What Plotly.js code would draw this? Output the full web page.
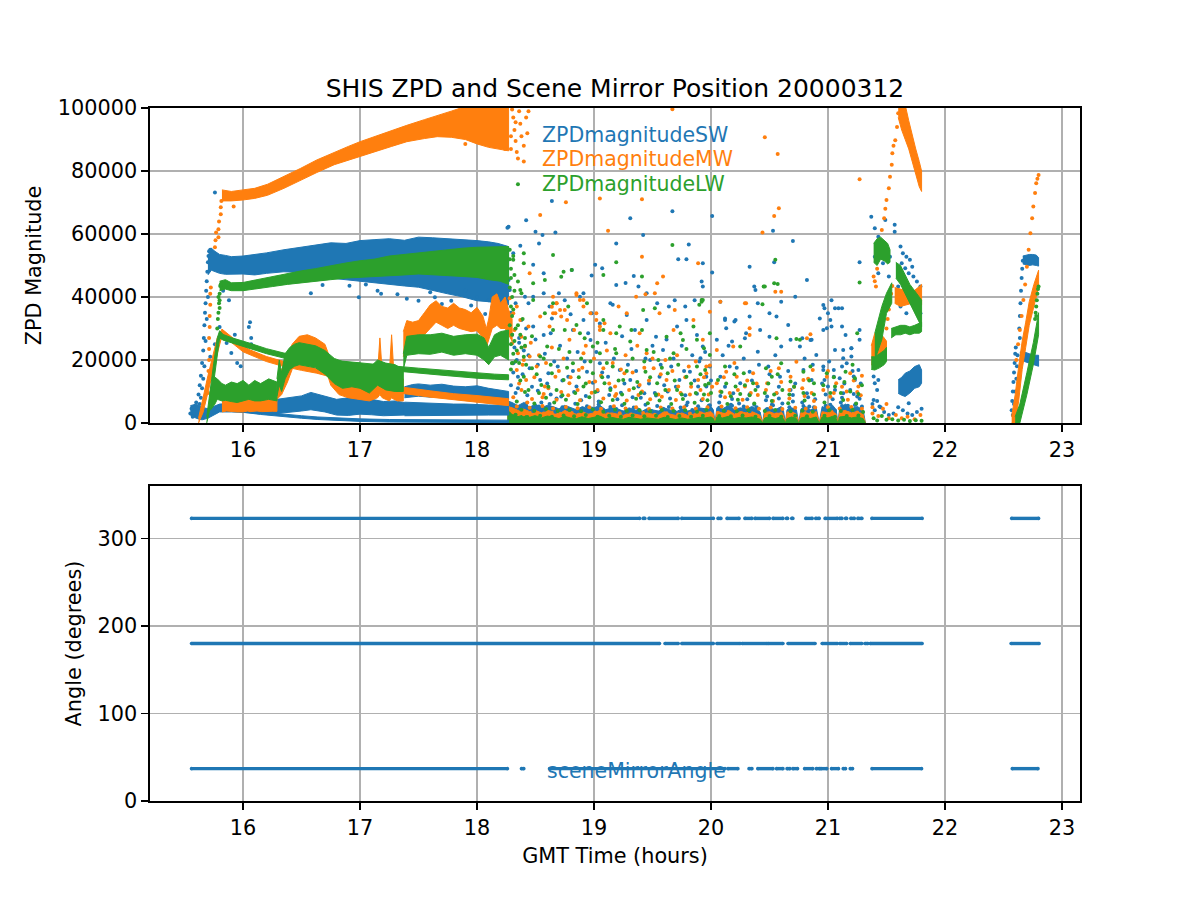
<!DOCTYPE html>
<html><head><meta charset="utf-8">
<script src="https://cdn.plot.ly/plotly-3.0.1.min.js"></script>
<style>body{margin:0;background:#fff}#chart{width:1200px;height:900px}</style>
</head><body><div id="chart"></div>
<script>
const C_SW = '#1f77b4', C_MW = '#ff7f0e', C_LW = '#2ca02c';

// ---------- ZPDmagnitudeSW dense bands (upper / lower envelopes) ----------
const swMainX  = [15.70,15.73,15.76,15.80,15.85,15.90,16.00,16.10,16.20,16.35,16.50,16.62,16.75,16.88,17.00,17.12,17.25,17.38,17.50,17.62,17.75,17.88,18.00,18.10,18.18,18.27];
const swMainUp = [53000,55500,54500,53500,53200,52800,53000,53500,54000,55000,55800,56500,57200,57000,57900,58200,58500,58000,59000,58800,58500,58300,57900,57500,57000,56000];
const swMainLo = [47000,48500,48000,47500,47200,47300,47300,47000,47500,48000,47800,46500,46000,45500,45200,44500,44000,43500,43100,42000,41000,40000,38800,38500,38000,37500];
const swLineX  = [15.83,15.90,16.00,16.15,16.30,16.50,16.64,16.80,17.00,17.25,17.50,17.80,18.27];
const swLineUp = [5500,4900,4200,3500,2900,2300,1900,1600,1300,1100,1000,950,900];
const swLineLo = [4500,4100,3400,2700,2100,1500,1100,800,500,300,200,150,100];
const swNoisyX  = [15.55,15.60,15.65,15.70,15.80,15.90,16.00,16.10,16.20,16.29,16.40,16.50,16.58,16.70,16.80,16.90,17.00,17.10,17.20,17.30,17.38];
const swNoisyUp = [5500,6000,5000,4500,6000,6200,6300,6000,6500,7500,8000,8600,9700,8500,7500,8000,8500,7500,6800,7000,6500];
const swNoisyLo = [2500,1500,1000,1500,3500,3500,3500,3200,3000,3000,3500,3800,4200,3500,2500,2400,2800,2600,2300,2500,2500];
const swTailAX  = [17.38,17.45,17.50,17.60,17.70,17.80,17.90,18.00,18.10,18.20,18.27];
const swTailAUp = [11500,12200,12400,12000,12300,11700,11500,11800,11000,10500,10000];
const swTailALo = [8000,8300,8500,8200,8400,8000,8000,8200,7800,7500,7400];
const swTailBX  = [17.38,17.50,17.60,17.70,17.80,17.90,18.00,18.10,18.27];
const swTailBUp = [6600,6400,6300,6100,6000,6000,5800,5700,5600];
const swTailBLo = [2300,2300,2300,2400,2400,2400,2500,2500,2500];
const swBlobX  = [21.60,21.63,21.66,21.70,21.74,21.78,21.80];
const swBlobUp = [13700,14500,15800,16500,17900,18500,16800];
const swBlobLo = [9400,8800,8400,9500,11000,11500,12600];
const swEndTopX  = [22.665,22.69,22.72,22.75,22.78,22.80];
const swEndTopUp = [53000,53300,53500,53500,53300,52500];
const swEndTopLo = [50500,50200,50000,50200,50000,49800];
const swEndMidX  = [22.64,22.68,22.72,22.76,22.80];
const swEndMidUp = [22500,22500,22000,21500,21500];
const swEndMidLo = [19500,19500,19000,18500,18000];

// ---------- ZPDmagnitudeMW dense bands ----------
const mwMainX  = [15.82,15.90,16.00,16.10,16.21,16.35,16.49,16.63,16.78,16.90,17.00,17.14,17.27,17.40,17.55,17.66,17.78,17.90,18.00,18.10,18.20,18.27];
const mwMainUp = [74000,73500,74000,74500,75800,78200,80800,83500,86000,87800,89300,91200,92800,94500,96300,97500,99000,100500,101000,101000,101000,101000];
const mwMainLo = [70500,70500,70800,71300,72300,74500,76900,79500,82000,83500,84600,86300,87800,89300,90300,90900,90700,90000,88600,87500,86800,86400];
const mwLineX  = [15.62,15.66,15.70,15.74,15.78,15.82,15.90,16.00,16.06,16.20,16.35,16.50,16.63,16.80,17.00,17.20,17.38,17.60,17.80,18.00,18.15,18.27];
const mwLineUp = [1500,8500,15000,21000,27000,29800,27400,24400,23200,21100,19500,18300,17400,15900,14300,12700,11300,10200,9300,8700,8200,7700];
const mwLineLo = [0,3500,10000,16000,22000,27600,25600,22600,21600,19500,17900,16700,15800,14100,12500,10900,9300,8200,7300,6500,6000,5500];
const mwEarlyX  = [15.82,15.86,15.90,15.95,16.00,16.04,16.06,16.08,16.12,16.16,16.20,16.25,16.29];
const mwEarlyUp = [9000,8000,7500,8000,7500,8200,11500,8000,8500,7800,8000,8500,7500];
const mwEarlyLo = [3500,3800,3600,3500,3500,3800,3600,3700,3800,3600,3600,3700,3700];
const mwNoisyX  = [16.29,16.33,16.38,16.42,16.48,16.55,16.62,16.70,16.75,16.82,16.90,17.00,17.08,17.15,17.17,17.19,17.22,17.25,17.27,17.29,17.32,17.37];
const mwNoisyUp = [12000,17000,21000,25000,27500,28000,27000,25000,20000,18000,17500,17000,15500,16000,27000,16000,15000,15500,28000,15500,15000,14000];
const mwNoisyLo = [7500,9000,13000,17000,21000,22000,20500,18000,12000,9000,8000,7500,7000,8000,9000,8000,7500,7000,8000,7500,7000,7000];
const mwStepX  = [17.37,17.40,17.45,17.50,17.55,17.60,17.65,17.70,17.75,17.80,17.85,17.90,17.95,18.00,18.05,18.08,18.10,18.13,18.17,18.20,18.24,18.27,18.30];
const mwStepUp = [29000,32500,32000,32500,35000,37500,38800,37000,36500,38000,36500,36000,35000,36700,34000,30000,33000,40000,41000,38000,40000,36000,33000];
const mwStepLo = [21000,26000,26000,26500,28000,30000,32000,31000,30000,31000,30000,29500,29000,29300,27000,24000,26000,30000,31000,30000,30000,28000,26000];
const mwPeakX  = [21.60,21.63,21.66,21.69,21.72,21.75,21.78,21.80];
const mwPeakUp = [101000,101000,101000,96000,91000,87000,83000,80000];
const mwPeakLo = [97000,93000,90000,87000,83000,79000,75000,73500];
const mwBurstLowX  = [21.37,21.40,21.43,21.47,21.50];
const mwBurstLowUp = [24500,28500,28500,27500,26000];
const mwBurstLowLo = [18500,17900,19500,20500,21500];
const mwBurstMidX  = [21.57,21.62,21.67,21.72,21.77,21.80];
const mwBurstMidUp = [43000,42500,42000,41500,43000,44000];
const mwBurstMidLo = [38000,37000,37500,38000,37000,37500];
const mwEndX  = [22.57,22.60,22.63,22.66,22.69,22.72,22.76,22.80];
const mwEndUp = [2000,9000,18000,26000,32000,38500,44000,48500];
const mwEndLo = [0,0,7000,17000,24000,31000,37000,43000];

// ---------- ZPDmagnitudeLW dense bands ----------
const lwMainX  = [15.80,15.85,15.90,16.00,16.12,16.25,16.38,16.50,16.62,16.75,16.88,17.00,17.12,17.25,17.38,17.50,17.62,17.75,17.88,18.00,18.10,18.20,18.27];
const lwMainUp = [45000,45500,44500,44600,45500,46500,47500,48300,49000,50000,50800,51500,52000,53000,53500,54200,54500,55000,55500,55800,55800,56000,56000];
const lwMainLo = [42000,42500,42000,42000,42500,43300,44000,44600,45000,45500,46000,46200,46500,46800,47000,47300,47000,46800,46500,46200,45500,45000,44000];
const lwLineX  = [15.69,15.72,15.75,15.78,15.80,15.83,15.90,16.06,16.20,16.35,16.60,16.80,17.00,17.25,17.50,17.75,18.00,18.15,18.27];
const lwLineUp = [2000,11000,19000,27000,29300,28100,27100,25300,23600,22200,20700,19800,19000,18200,17400,16600,15800,15500,15300];
const lwLineLo = [0,5000,13000,21000,27000,26300,25500,23700,22000,20600,19100,18200,17400,16600,15800,15000,14200,13900,13700];
const lwEarlyX  = [15.72,15.76,15.78,15.82,15.85,15.90,15.95,16.00,16.05,16.10,16.15,16.22,16.29];
const lwEarlyUp = [10000,14500,14000,12500,12000,13000,12500,13500,12000,13500,12500,14000,13000];
const lwEarlyLo = [4000,6000,7500,7000,7200,6800,6500,7000,7500,7000,7000,7500,7000];
const lwNoisyX  = [16.29,16.31,16.33,16.36,16.40,16.44,16.48,16.55,16.62,16.70,16.78,16.85,16.93,17.00,17.08,17.15,17.22,17.30,17.37];
const lwNoisyUp = [14000,20000,16000,22000,24000,25000,25500,25000,24500,23000,20500,19500,19000,19000,17500,20000,19000,18500,17000];
const lwNoisyLo = [8500,12000,10000,14000,17000,18000,18500,18000,17500,15500,12500,11000,11500,11000,9500,12000,10500,10000,10000];
const lwStepX  = [17.37,17.40,17.50,17.60,17.70,17.80,17.90,18.00,18.06,18.10,18.15,18.20,18.27];
const lwStepUp = [22000,27500,28000,28000,28500,27500,28000,28200,27000,24000,28000,29000,29500];
const lwStepLo = [17000,21500,22000,21800,22500,21500,22000,21500,20000,18500,21000,21500,20000];
const lwBurstTopX  = [21.39,21.42,21.45,21.48,21.51,21.53];
const lwBurstTopUp = [57000,58500,59000,58000,57000,55000];
const lwBurstTopLo = [51000,50000,52000,51500,50500,51000];
const lwBurstLowX  = [21.37,21.40,21.44,21.48,21.50];
const lwBurstLowUp = [21000,21000,22000,23000,24000];
const lwBurstLowLo = [17000,16800,17500,18500,19500];
const lwBurstRiseX  = [21.40,21.43,21.46,21.50,21.545];
const lwBurstRiseUp = [28500,33000,37000,41200,44500];
const lwBurstRiseLo = [20000,23500,26400,34800,38000];
const lwBurstFallX  = [21.58,21.62,21.66,21.70,21.74,21.78,21.80];
const lwBurstFallUp = [51000,50000,47000,44000,42000,40000,39000];
const lwBurstFallLo = [46000,44000,41000,37500,35000,32000,30500];
const lwBurstFlatX  = [21.54,21.58,21.62,21.66,21.70,21.74,21.78,21.80];
const lwBurstFlatUp = [30000,30500,31000,31000,30500,31000,31500,32000];
const lwBurstFlatLo = [27000,28000,28000,28500,28000,28500,28500,29000];
const lwEndX  = [22.60,22.64,22.70,22.755,22.80];
const lwEndUp = [2000,6000,16000,25500,35000];
const lwEndLo = [0,0,9000,18500,28000];

// ---------- dense low cloud 18.3-21.3 (top of the dense layer) ----------
const lowX = [18.26,18.30,18.35,18.40,18.45,18.50,18.55,18.60,18.65,18.70,
  18.75,18.80,18.85,18.90,18.95,19.00,19.05,19.10,19.15,19.20,
  19.25,19.30,19.35,19.40,19.45,19.50,19.55,19.60,19.65,19.70,
  19.75,19.80,19.85,19.90,19.95,20.00,20.02,20.035,20.05,20.10,
  20.15,20.20,20.25,20.30,20.35,20.40,20.42,20.44,20.46,20.50,
  20.55,20.60,20.62,20.635,20.65,20.69,20.73,20.75,20.77,20.81,
  20.85,20.90,20.925,20.95,21.00,21.04,21.07,21.085,21.10,21.15,
  21.20,21.25,21.30,21.32];
const swLowTop = [7000,6500,5500,6500,5000,6000,4800,5600,5200,4500,
  5600,4800,4200,5200,4500,4800,5600,4200,4800,4500,
  3800,4800,4200,3500,4500,4200,3800,4800,4200,3500,
  4500,3800,4200,4800,4500,5200,4200,0,4800,4500,
  5600,4200,4800,4500,5200,4200,3500,0,4500,4800,
  4200,5200,3800,0,4200,4800,4200,0,4500,5200,
  4200,4800,0,5200,4500,5600,4200,0,4800,6000,
  4500,5200,4200,0];
const mwLowTop = [5500,4800,4000,4400,3600,4000,3200,4000,3600,2800,
  4000,3200,2800,3600,2800,3200,4000,2800,3200,2800,
  2400,3200,2800,2400,3200,2800,2400,3600,2800,2400,
  3200,2400,2800,3600,3200,3600,2800,0,3600,3200,
  4000,2800,3600,3200,3600,2800,2400,0,3200,3600,
  2800,3600,2400,0,2800,3600,2800,0,3200,3600,
  2800,3600,0,3600,3200,4000,2800,0,3600,4000,
  3200,3600,2800,0];
const lwLowTop = [4000,2800,2000,2600,1800,2400,1600,2200,1900,1400,
  2100,1600,1400,2000,1400,1800,2200,1300,1800,1400,
  1200,1800,1400,1200,1600,1400,1200,1800,1400,1100,
  1600,1200,1400,1800,1600,1900,1400,0,1900,1600,
  2100,1400,1800,1600,1900,1400,1200,0,1600,1900,
  1400,1900,1300,0,1400,1900,1400,0,1600,1900,
  1400,1900,0,1900,1600,2100,1400,0,1900,2100,
  1600,1900,1400,0];

// ---------- scattered points [hour, magnitude] ----------
const swDots = [
[15.55,3000],[15.56,4500],[15.57,2000],[15.58,5000],[15.60,6500],[15.61,3500],[15.62,9000],[15.63,6000],[15.63,12000],[15.64,8000],[15.64,15000],[15.65,11000],[15.65,19000],[15.66,14000],[15.66,23000],[15.665,27000],[15.67,18000],[15.67,31000],[15.675,35000],[15.68,38000],[15.68,26000],[15.685,42000],[15.69,45000],[15.69,33000],[15.695,48000],[15.70,51000],[15.70,40000],[15.705,53000],[15.71,54500],[15.72,55000],[15.72,21000],[15.73,17000],[15.74,11000],[15.76,73200],[15.76,25000],[15.78,9000],[15.80,30500],[15.83,42000],[15.86,25400],[15.88,39000],[15.90,22200],[15.93,28000],[16.05,30500],[16.06,32000],[16.07,27000],[16.07,25000],[15.95,19000],[15.98,18000],
[16.58,41200],[16.68,43800],[16.91,43600],[16.99,39900],[17.15,42000],[17.18,41000],[17.32,40900],[17.40,39400],[17.50,38800],[17.64,39900],[17.70,37800],[17.78,38800],[17.87,35700],[17.95,37300],[18.07,34600],[18.13,36700],[18.18,32500],[18.24,38800],[18.26,62000],[16.30,45000],[17.05,44000],[17.60,41500],[18.00,40000],[17.90,42000],[18.10,39000],
[18.29,35000],[18.30,28000],[18.32,24000],[18.34,20000],[18.36,27000],[18.40,23000],[18.42,30000],[18.29,12000],[18.31,16000],[18.35,11000],
[18.27,62300],[18.42,64400],[18.64,70500],[18.50,60750],[18.56,59700],[18.67,60500],[18.53,57000],[18.31,53900],[18.37,56300],[18.48,50200],[18.57,47500],[18.81,48600],[18.98,46800],[19.01,50200],[19.07,49100],[19.19,57000],[19.31,65000],[19.42,59700],[19.34,46700],[19.67,67200],[19.72,52000],[19.79,52000],[19.81,56700],[19.92,44900],[20.01,65700],[20.01,47800],[20.33,49600],[20.37,43300],[20.53,61000],[20.54,51000],[20.70,57800],[20.72,40100],[20.82,45400],[21.27,51000],[18.27,45400],
[18.25,39000],[18.33,38000],[18.41,40100],[18.48,40100],[18.57,41200],[18.62,37000],[18.70,41200],[18.75,39000],[18.88,40100],[18.91,41200],[18.98,34800],[19.14,38000],[19.19,43800],[19.27,44400],[19.38,43300],[19.45,41200],[19.54,38000],[19.64,37000],[19.69,39000],[19.78,37000],[19.86,39000],[19.93,43300],[20.05,26400],[20.12,32700],[20.13,30100],[20.20,32200],[20.30,28500],[20.38,42200],[20.40,38000],[20.50,34800],[20.60,38500],[20.68,26400],[20.78,26900],[20.86,26400],[20.93,33200],[20.96,29500],[20.97,36400],[21.03,39000],[21.09,36400],[21.12,17900],[21.20,21100],[21.27,29500],[21.27,26400],
[18.28,42200],[18.38,32700],[18.44,38000],[18.48,30600],[18.57,27900],[18.64,33200],[18.82,29500],[18.91,32700],[18.97,26360],[19.05,31600],[19.16,37500],[19.28,34300],[19.35,29500],[19.45,32700],[19.53,27400],[19.59,23200],[19.71,30600],[19.79,32700],[19.88,27900],[19.93,24250],
[19.93,50700],[20.08,38500],[20.12,33200],[20.21,32700],[20.33,33800],[20.42,29500],[20.56,33800],[20.66,31100],[20.85,26360],[21.00,34800],[21.03,30600],[21.12,30600],[21.15,27900],[21.20,23700],[20.18,25830],[20.29,26900],[20.40,22650],[20.50,27400],[20.60,24250],[20.76,24250],[20.90,21600],[19.91,20540],
[18.31,18950],[18.35,14700],[18.45,17360],[18.54,13660],[18.61,15800],[18.69,17900],[18.78,14700],[18.85,11540],[18.94,16300],[19.05,18950],[19.12,14700],[19.22,16800],[19.31,13660],[19.38,11540],[19.48,20000],[19.56,14700],[19.66,17900],[19.73,13660],[19.82,16300],[19.89,11540],[19.96,14700],
[19.99,17900],[20.08,14700],[20.16,17900],[20.25,12600],[20.33,16300],[20.40,11540],[20.49,17900],[20.59,14700],[20.68,10480],[20.79,16800],[20.86,13660],[20.96,17900],[21.00,11540],[21.05,14700],[21.16,18950],[21.23,13660],[19.96,11540],[20.19,9430],[20.56,9430],[20.82,9430],[21.13,9430],
[18.33,9500],[18.43,8800],[18.52,10200],[18.63,9000],[18.72,8400],[18.83,9800],[18.93,8600],[19.03,10100],[19.13,8900],[19.23,9600],[19.33,8200],[19.43,9400],[19.53,8700],[19.63,10000],[19.78,8800],[19.88,9300],[20.08,8600],[20.18,7600],[20.33,9100],[20.48,8400],[20.58,7800],[20.70,8900],[20.83,8200],[20.98,9000],[21.12,8000],[21.22,9200],[21.27,7700],
[18.36,25500],[18.39,15500],[18.44,21500],[18.47,11500],[18.50,26500],[18.52,18500],[18.55,6500],[18.58,22000],[18.60,12500],[18.63,28500],[18.66,19500],[18.68,7800],[18.71,24500],[18.73,13500],[18.77,20500],[18.80,34500],[18.82,16500],[18.86,22500],[18.89,7200],[18.92,19500],[18.95,28500],[18.99,12800],[19.02,22500],[19.04,6800],[19.07,16000],[19.10,25500],[19.14,11000],[19.17,20500],[19.20,7500],[19.24,27500],[19.26,12500],[19.29,18500],
[19.32,23500],[19.36,16500],[19.40,8000],[19.44,20500],[19.47,12500],[19.50,24500],[19.52,9500],[19.57,18500],[19.60,12000],[19.62,26500],[19.65,7800],[19.68,20500],[19.70,11500],[19.75,24500],[19.77,16500],[19.80,6500],[19.84,21500],[19.86,13500],[19.90,19500],
[19.92,7200],[19.95,22500],[19.98,5500],[20.00,13500],[20.07,6500],[20.10,21500],[20.12,11500],[20.15,24500],[20.17,5800],[20.22,17500],[20.24,6200],[20.28,20500],[20.31,7500],[20.35,13500],[20.37,5800],[20.41,18500],[20.47,7200],[20.50,15500],[20.52,5800],[20.55,21500],[20.58,11500],[20.61,6200],[20.66,16500],[20.70,6800],[20.72,12500],[20.78,6500],[20.80,20500],[20.84,5200],[20.87,18500],[20.89,7500],[20.95,12500],[20.98,5500],[21.01,19500],[21.04,7500],[21.06,10500],[21.11,6500],[21.14,12500],[21.17,5500],[21.21,16500],[21.24,6000],[21.28,12500],[21.29,5200],
[18.29,5800],[18.37,4500],[18.42,6200],[18.48,3800],[18.53,5200],[18.58,4200],[18.62,6000],[18.67,3600],[18.73,5000],[18.78,4400],[18.84,6100],[18.88,3900],[18.94,5300],[18.98,4600],[19.04,5900],[19.09,3700],[19.14,5100],[19.19,4400],[19.24,5600],[19.29,3600],[19.34,4900],[19.38,4200],[19.44,5800],[19.49,3800],[19.54,5400],[19.59,4500],[19.64,5100],[19.69,3600],[19.74,4900],[19.79,5600],[19.84,4100],[19.89,5300],[19.94,3900],[19.99,5600],[20.07,4800],[20.12,3800],[20.18,5500],[20.23,4200],[20.28,5200],[20.33,3700],[20.39,5000],[20.48,4400],[20.53,5600],[20.58,3900],[20.67,5000],[20.71,4100],[20.79,5400],[20.83,3800],[20.88,5000],[20.97,4500],[21.02,5800],[21.06,3900],[21.12,5400],[21.17,4400],[21.23,5700],[21.27,4000],
[20.96,37480],[21.06,36420],[21.12,36420],[21.02,32700],[20.99,30070],[21.06,23200],[21.13,23200],[21.20,23700],[21.13,20540],[20.96,16840],[21.05,16840],[21.10,14200],[21.22,14730],[21.26,16840],[20.97,13670],[21.19,10490],[21.25,8380],
[21.37,65500],[21.40,61800],[21.49,64450],[21.57,62900],[21.57,60750],[21.43,59160],[21.46,57000],[21.40,52800],[21.50,54930],[21.53,52800],[21.43,47500],[21.52,46500],[21.47,50700],
[21.62,56000],[21.64,53900],[21.67,52800],[21.70,51800],[21.63,50700],[21.66,49100],[21.69,47500],[21.73,46500],[21.72,49600],[21.76,44900],[21.79,43300],[21.62,47500],[21.64,44900],[21.74,41200],[21.77,38000],[21.79,34800],[21.59,40100],[21.62,36950],[21.60,43300],[21.70,39060],[21.67,34800],
[21.39,14730],[21.40,12600],[21.42,10490],[21.43,13670],[21.39,7320],[21.44,5200],[21.69,6300],
[21.38,6000],[21.40,4000],[21.42,7000],[21.45,5000],[21.48,3500],[21.52,2500],[21.56,3000],[21.60,5000],[21.64,4000],[21.68,3000],[21.72,2500],[21.76,3500],[21.80,4500],
[22.57,4000],[22.575,7000],[22.58,10000],[22.585,13000],[22.59,16000],[22.595,19000],[22.60,22000],[22.605,24000],[22.58,2500],[22.59,6000],[22.60,10000],[22.61,14000],[22.615,18000],[22.62,21500],
[22.635,30000],[22.64,34000],[22.645,38000],[22.65,42000],[22.655,46000],[22.66,49000],[22.665,51500],[22.64,27000]
];
const mwDots = [
[15.70,9500],[15.705,13000],[15.705,16500],[15.71,20000],[15.71,23500],[15.71,27000],[15.715,30500],[15.715,34000],[15.72,37500],[15.72,41000],[15.725,43000],[15.76,55800],[15.765,58000],[15.77,60500],[15.79,59000],[15.79,61500],[15.795,64000],[15.81,66300],[15.81,68500],[15.815,70500],[15.92,68700],[17.90,88550],[18.24,87000],
[18.31,97000],[18.32,93000],[18.33,89500],[18.34,86000],[18.36,99000],[18.37,95000],[18.38,91000],[18.40,88000],[18.40,83000],[18.42,97000],[18.43,92000],[18.44,99000],[18.35,84000],[18.30,99500],[18.33,95500],[18.29,91000],[18.29,87000],
[19.67,99600],[20.46,90700],[20.57,85400],[21.27,77400],[18.54,66000],[18.76,70100],[19.05,71300],[19.41,71000],[19.12,61000],[20.58,68150],[20.54,65700],[20.44,60500],[19.41,52800],[19.89,50700],[19.59,46500],[19.54,44350],[19.52,41200],[19.44,40860],[20.55,41700],[20.29,38000],[20.08,38500],[18.45,47500],[18.85,41200],[18.91,39060],[19.21,36950],[19.28,34800],[19.36,40100],[19.69,35900],[19.68,29500],[19.56,34800],[19.85,32700],[19.93,26400],[20.05,23200],[20.19,24250],[18.68,38000],[18.65,34800],[18.75,35900],[18.77,32700],[19.02,34800],[19.05,30600],[19.14,28500],[19.39,28500],[19.45,22100],[18.79,26400],[18.91,22100],[18.54,33800],[18.62,30600],[20.82,26900],
[18.28,39580],[18.31,34820],[18.34,36940],[18.37,32700],[18.32,29530],[18.38,27400],[18.41,24240],[18.35,22120],[18.44,30590],[18.45,21070],[18.30,25300],[18.40,20000],[18.65,40100],[18.68,38000],[18.71,35900],[18.72,33800],[18.67,34800],[18.64,36900],[18.85,40650],[18.88,39050],[18.91,36940],[18.97,34820],[19.02,32700],[19.05,29530],[19.09,31640],
[18.34,16830],[18.42,13660],[18.51,17890],[18.58,11540],[18.67,14700],[18.79,12600],[18.87,16830],[19.01,13130],[19.08,17360],[19.18,11540],[19.26,15770],[19.39,12070],[19.51,17360],[19.62,13660],[19.72,11540],[19.81,17890],[19.89,13660],[19.96,17890],
[20.30,38000],[19.99,35350],[20.33,30060],[20.33,27940],[20.60,41700],[20.85,28150],[20.73,19470],[19.96,15770],[20.05,12600],[20.13,16300],[20.22,14700],[20.29,11540],[20.36,15770],[20.48,12600],[20.58,17360],[20.68,14700],[20.79,13660],[20.87,16830],[20.99,14700],[21.07,12600],[21.19,15770],[21.26,11540],[19.99,18210],
[18.31,8200],[18.38,10500],[18.47,7600],[18.57,9200],[18.68,7400],[18.78,8800],[18.88,7200],[18.98,9600],[19.08,7800],[19.18,8600],[19.28,7100],[19.38,8900],[19.48,7500],[19.58,8300],[19.70,7300],[19.82,9000],[19.93,7600],[20.12,8200],[20.27,7400],[20.40,8900],[20.53,7000],[20.67,7800],[20.80,8600],[20.88,7000],[21.02,8300],[21.17,7400],[21.28,8800],
[18.36,12500],[18.39,18500],[18.43,6500],[18.46,25500],[18.49,14500],[18.53,21500],[18.56,8200],[18.59,19000],[18.61,11000],[18.64,24000],[18.70,16500],[18.72,9800],[18.74,20500],[18.80,14500],[18.83,29500],[18.86,10500],[18.90,17500],[18.93,24500],[18.96,13000],[19.00,20500],[19.03,10500],[19.06,15000],[19.11,23000],[19.13,12500],[19.16,19000],[19.19,9200],[19.23,17000],[19.27,21500],[19.30,10500],[19.33,16000],[19.37,24500],[19.41,10000],[19.43,17500],[19.47,13500],[19.50,20500],[19.55,9000],[19.57,15500],[19.61,20000],[19.64,10500],[19.67,16500],[19.71,21500],[19.74,9500],[19.78,14500],[19.83,11500],[19.87,19500],[19.91,10500],[19.94,14500],[19.98,9000],[20.01,11500],[20.08,10000],[20.11,14500],[20.16,9500],[20.20,19000],[20.23,10500],[20.31,13500],[20.34,9500],[20.39,12500],[20.47,10500],[20.51,16500],[20.56,9500],[20.60,13000],[20.67,10500],[20.71,11500],[20.78,11000],[20.83,14000],[20.86,9500],[20.96,10500],[21.00,16500],[21.05,9500],[21.12,11500],[21.16,10000],[21.22,13500],[21.25,9800],[21.29,15000],
[18.31,3400],[18.34,5200],[18.40,2800],[18.45,4800],[18.51,3000],[18.56,5400],[18.61,3300],[18.65,4600],[18.71,2900],[18.76,5100],[18.81,3200],[18.86,4700],[18.91,2700],[18.96,5000],[19.01,3300],[19.06,4500],[19.12,2800],[19.17,5300],[19.22,3100],[19.27,4600],[19.32,2700],[19.36,5000],[19.42,3200],[19.47,4400],[19.52,2600],[19.57,4900],[19.62,3100],[19.67,4600],[19.72,2700],[19.77,5000],[19.82,3000],[19.87,4500],[19.92,2800],[19.97,5000],[20.06,3200],[20.09,5200],[20.14,2900],[20.21,4700],[20.26,3100],[20.31,5000],[20.36,2800],[20.41,4500],[20.47,3000],[20.51,4900],[20.56,2700],[20.61,4400],[20.66,3100],[20.72,4800],[20.78,2900],[20.81,4500],[20.86,3200],[20.89,4900],[20.96,2800],[21.00,5000],[21.04,3100],[21.10,4600],[21.15,2800],[21.20,5100],[21.25,3300],[21.29,4500],
[21.39,46500],[21.40,45000],[21.41,43300],[21.42,49000],[21.43,52800],[21.455,57000],[21.46,61300],[21.48,65000],[21.49,68000],[21.50,70800],[21.52,74500],[21.53,78200],[21.545,82000],[21.55,85600],[21.56,88000],[21.575,89800],[21.59,94000],[21.60,98300],
[21.50,30000],[21.51,33000],[21.52,36000],[21.53,39000],[21.54,41000],[21.55,43500],
[21.38,3000],[21.43,2200],[21.47,4500],[21.52,1500],[21.58,2500],[21.63,1500],[21.68,2000],[21.74,1200],[21.79,2500],[21.38,5000],[21.50,6000],
[22.61,20000],[22.625,25000],[22.64,29500],[22.655,34000],[22.67,39060],[22.685,44000],[22.70,49600],[22.715,55000],[22.73,60200],[22.745,65000],[22.755,68700],[22.77,73000],[22.78,76100],[22.79,77500],[22.80,78700]
];
const lwDots = [
[15.78,30000],[15.785,33000],[15.79,35000],[15.79,40000],[15.795,38000],[15.80,36500],[15.80,39000],[15.80,41000],[15.805,43500],[15.81,44000],
[18.28,55000],[18.28,52000],[18.29,49000],[18.29,46000],[18.28,43000],[18.30,40000],[18.29,37000],[18.30,34000],[18.28,31000],[18.30,28000],[18.29,25000],[18.31,22000],[18.30,19000],[18.29,17000],[18.31,53000],[18.32,47000],[18.32,42000],[18.31,36000],[18.33,30000],[18.32,26000],[18.34,23000],[18.33,19500],
[18.35,31000],[18.37,28000],[18.38,24000],[18.40,21000],[18.36,19000],[18.39,33000],[18.41,27000],[18.42,18500],
[18.35,75770],[19.67,56520],[19.19,51000],[19.08,47000],[19.41,46500],[18.65,53300],[18.74,48000],[18.81,48600],[18.40,53900],[18.31,51800],[18.35,44900],[18.37,42200],[20.55,51800],[21.27,44600],[20.54,44350],[20.45,43300],[18.48,39060],[18.65,38000],[18.78,36950],[18.94,38000],[19.92,39060],[19.90,37500],[19.42,35900],[19.52,36400],[19.08,32700],[19.22,30600],[19.32,29500],[18.65,29500],[18.88,28500],[19.62,27400],[19.74,28500],[19.88,26400],[19.99,28500],[20.25,24250],[20.56,26900],[20.76,26400],[21.25,28500],[18.99,24250],[19.05,22100],[19.19,22100],[18.60,24250],[18.54,21070],
[18.24,55450],[18.40,50690],[18.48,44340],[18.58,45400],[18.72,46460],[18.38,41170],[18.58,34820],[18.75,29530],[18.85,31120],[18.92,26880],[19.08,29530],[19.19,28470],[19.31,25830],[19.41,29530],[19.45,23180],[19.55,20000],[19.68,22120],[19.76,26360],[19.85,30590],[19.92,38520],
[18.30,18950],[18.40,14700],[18.47,17360],[18.55,12070],[18.64,15800],[18.74,13660],[18.82,18950],[18.91,11540],[18.99,15800],[19.09,12600],[19.16,17890],[19.25,13660],[19.34,11010],[19.44,16300],[19.54,12600],[19.63,15800],[19.71,10490],[19.79,14700],[19.88,17890],[19.95,12070],
[20.46,43300],[20.57,44130],[20.44,37670],[20.73,26670],[19.93,39050],[19.94,23710],[19.99,21600],
[19.95,16830],[20.06,13660],[20.12,17890],[20.21,11540],[20.28,15770],[20.36,12600],[20.47,17360],[20.52,14700],[20.60,18950],[20.68,13130],[20.79,16300],[20.85,17890],[20.88,12600],[20.99,15770],[21.06,11540],[21.15,16300],[21.23,14180],
[18.34,6800],[18.41,9800],[18.49,6200],[18.59,8000],[18.66,6500],[18.76,7400],[18.86,6000],[18.96,8200],[19.06,6600],[19.16,7300],[19.26,6100],[19.36,7700],[19.46,6300],[19.56,7100],[19.66,6000],[19.76,7600],[19.86,6400],[19.97,7200],[20.14,6000],[20.23,7400],[20.37,6200],[20.52,7000],[20.66,6300],[20.80,7100],[20.97,6500],[21.13,7300],[21.24,6200],
[18.37,13500],[18.41,24500],[18.44,10500],[18.47,27500],[18.51,15500],[18.53,9500],[18.57,20500],[18.61,11500],[18.63,18500],[18.68,10500],[18.70,23500],[18.73,8800],[18.77,17500],[18.79,22500],[18.84,9500],[18.87,14500],[18.89,20500],[18.93,12500],[18.97,19500],[19.01,9800],[19.03,25500],[19.07,14500],[19.11,19000],[19.14,10500],[19.18,23500],[19.21,13500],[19.24,9000],[19.28,16500],[19.33,20500],[19.37,13000],[19.40,9500],[19.43,19500],[19.48,14500],[19.51,22500],[19.53,9000],[19.58,17500],[19.61,10500],[19.65,20500],[19.69,13500],[19.72,18500],[19.75,9000],[19.79,23500],[19.83,12500],[19.87,9500],[19.91,15500],[19.94,9000],[19.98,12500],[20.00,9500],[20.09,9800],[20.13,12500],[20.17,8500],[20.20,15500],[20.25,9200],[20.29,12000],[20.33,8800],[20.38,10500],[20.46,9500],[20.49,12500],[20.54,9000],[20.57,15500],[20.61,10500],[20.67,9000],[20.71,11500],[20.79,9500],[20.84,13500],[20.88,9000],[20.96,12000],[21.02,9500],[21.05,14500],[21.11,9500],[21.14,13000],[21.19,10000],[21.21,18500],[21.26,9200],[21.29,12000],
[18.33,2600],[18.38,4200],[18.43,1900],[18.49,3900],[18.54,2300],[18.59,4400],[18.64,2000],[18.69,3800],[18.74,2400],[18.79,4100],[18.83,2100],[18.89,3700],[18.93,2500],[18.99,4300],[19.03,2000],[19.08,3600],[19.13,2300],[19.18,4200],[19.23,2000],[19.28,3800],[19.33,2400],[19.39,4000],[19.43,2100],[19.48,3700],[19.53,2300],[19.58,4100],[19.63,1900],[19.68,3800],[19.73,2200],[19.78,4000],[19.83,2000],[19.88,3600],[19.93,2300],[19.96,4100],[20.07,2200],[20.11,3900],[20.17,2100],[20.22,3700],[20.27,2400],[20.32,4000],[20.38,2000],[20.46,3800],[20.50,2200],[20.55,4100],[20.60,2000],[20.68,3700],[20.72,2300],[20.78,3900],[20.82,2100],[20.87,3600],[20.97,2300],[21.01,4000],[21.06,2000],[21.11,3800],[21.16,2200],[21.21,4100],[21.26,2400],[21.30,3500],
[21.39,1500],[21.42,800],[21.46,2200],[21.50,1000],[21.55,1200],[21.60,800],[21.65,1000],[21.70,600],[21.75,900],[21.80,700],
[22.77,33000],[22.775,35000],[22.78,37000],[22.785,39000],[22.79,41000],[22.795,42500],[22.80,43300],[22.78,34000]
];

// ---------- scene mirror angle: recorded time spans [start, end] per angle ----------
const angleValues = [323, 180, 37];
const seg323 = [[15.56,19.39],[19.42,19.435],[19.47,19.72],[19.75,20.02],[20.06,20.085],[20.137,20.24],[20.29,20.35],[20.376,20.50],[20.53,20.615],[20.645,20.655],[20.69,20.70],[20.81,20.865],[20.895,20.925],[20.975,21.08],[21.10,21.12],[21.15,21.16],[21.195,21.225],[21.255,21.29],[21.375,21.805],[22.57,22.80]];
const seg180 = [[15.56,19.56],[19.607,19.72],[19.75,20.02],[20.05,20.25],[20.265,20.48],[20.487,20.615],[20.658,20.89],[20.95,21.08],[21.10,21.16],[21.19,21.29],[21.316,21.342],[21.36,21.805],[22.565,22.805]];
const seg37 = [[15.56,18.26],[18.38,18.40],[18.62,20.12],[20.145,20.23],[20.325,20.35],[20.40,20.53],[20.56,20.615],[20.65,20.675],[20.70,20.74],[20.80,20.87],[20.90,20.93],[20.94,20.99],[21.03,21.09],[21.13,21.15],[21.19,21.21],[21.376,21.80],[22.575,22.795]];

const xTicks = [16,17,18,19,20,21,22,23];
const yTicksTop = [0,20000,40000,60000,80000,100000];
const yTicksBot = [0,100,200,300];

// ---------- builders ----------
function band(x, up, lo, color) {
  return {type:'scatter', mode:'lines', x: x.concat(x.slice().reverse()), y: up.concat(lo.slice().reverse()),
    fill:'toself', fillcolor: color, line:{color: color, width: 1}, hoverinfo:'skip', showlegend:false, xaxis:'x', yaxis:'y'};
}
function lowCloud(x, top, color) {
  return {type:'scatter', mode:'lines', x: x, y: top, fill:'tozeroy', fillcolor: color,
    line:{color: color, width: 1}, hoverinfo:'skip', showlegend:false, xaxis:'x', yaxis:'y'};
}
function dots(pairs, color) {
  return {type:'scatter', mode:'markers', x: pairs.map(p => p[0]), y: pairs.map(p => p[1]),
    marker:{color: color, size: 4}, hoverinfo:'skip', showlegend:false, xaxis:'x', yaxis:'y'};
}
function segTrace(segs, v) {
  const xs = [], ys = [];
  segs.forEach(s => { xs.push(s[0], s[1], null); ys.push(v, v, null); });
  return {type:'scatter', mode:'lines+markers', x: xs, y: ys, line:{color: C_SW, width: 3.4},
    marker:{color: C_SW, size: 3.6}, hoverinfo:'skip', showlegend:false, xaxis:'x2', yaxis:'y2'};
}

const traces = [
  lowCloud(lowX, swLowTop, C_SW),
  lowCloud(lowX, mwLowTop, C_MW),
  lowCloud(lowX, lwLowTop, C_LW),
  band(swMainX, swMainUp, swMainLo, C_SW),
  band(swLineX, swLineUp, swLineLo, C_SW),
  band(swNoisyX, swNoisyUp, swNoisyLo, C_SW),
  band(swTailAX, swTailAUp, swTailALo, C_SW),
  band(swTailBX, swTailBUp, swTailBLo, C_SW),
  band(swBlobX, swBlobUp, swBlobLo, C_SW),
  band(swEndTopX, swEndTopUp, swEndTopLo, C_SW),
  band(swEndMidX, swEndMidUp, swEndMidLo, C_SW),
  dots(swDots, C_SW),
  band(mwMainX, mwMainUp, mwMainLo, C_MW),
  band(mwLineX, mwLineUp, mwLineLo, C_MW),
  band(mwEarlyX, mwEarlyUp, mwEarlyLo, C_MW),
  band(mwNoisyX, mwNoisyUp, mwNoisyLo, C_MW),
  band(mwStepX, mwStepUp, mwStepLo, C_MW),
  band(mwPeakX, mwPeakUp, mwPeakLo, C_MW),
  band(mwBurstLowX, mwBurstLowUp, mwBurstLowLo, C_MW),
  band(mwBurstMidX, mwBurstMidUp, mwBurstMidLo, C_MW),
  band(mwEndX, mwEndUp, mwEndLo, C_MW),
  dots(mwDots, C_MW),
  band(lwMainX, lwMainUp, lwMainLo, C_LW),
  band(lwLineX, lwLineUp, lwLineLo, C_LW),
  band(lwEarlyX, lwEarlyUp, lwEarlyLo, C_LW),
  band(lwNoisyX, lwNoisyUp, lwNoisyLo, C_LW),
  band(lwStepX, lwStepUp, lwStepLo, C_LW),
  band(lwBurstTopX, lwBurstTopUp, lwBurstTopLo, C_LW),
  band(lwBurstLowX, lwBurstLowUp, lwBurstLowLo, C_LW),
  band(lwBurstRiseX, lwBurstRiseUp, lwBurstRiseLo, C_LW),
  band(lwBurstFallX, lwBurstFallUp, lwBurstFallLo, C_LW),
  band(lwBurstFlatX, lwBurstFlatUp, lwBurstFlatLo, C_LW),
  band(lwEndX, lwEndUp, lwEndLo, C_LW),
  dots(lwDots, C_LW),
  segTrace(seg323, angleValues[0]),
  segTrace(seg180, angleValues[1]),
  segTrace(seg37, angleValues[2])
];

const FONT = 'DejaVu Sans, Verdana, sans-serif';
const axisCommon = {
  ticks:'outside', ticklen:7, tickwidth:1.6, tickcolor:'#000',
  showline:true, linewidth:1.6, linecolor:'#000', mirror:true,
  showgrid:true, gridcolor:'#b0b0b0', gridwidth:1.6, zeroline:false,
  tickfont:{family: FONT, size:20.8, color:'#000'}, fixedrange:true
};
const xRange = [15.205, 23.154];

const layout = {
  width:1200, height:900,
  margin:{l:150, r:120, t:108, b:99},
  paper_bgcolor:'#fff', plot_bgcolor:'#fff',
  font:{family: FONT, size:20.8, color:'#000'},
  showlegend:false,
  title:{text:'SHIS ZPD and Scene Mirror Position 20000312', font:{family: FONT, size:25, color:'#000'},
    x:0.5, xref:'paper', xanchor:'center', y:1-88/900, yref:'container', yanchor:'middle'},
  xaxis: Object.assign({}, axisCommon, {domain:[0,1], anchor:'y', range:xRange, tickvals:xTicks}),
  yaxis: Object.assign({}, axisCommon, {domain:[0.5455,1], anchor:'x', range:[0,100000], tickvals:yTicksTop, tickformat:'d',
    title:{text:'ZPD Magnitude', standoff:10, font:{family: FONT, size:20.8, color:'#000'}}}),
  xaxis2: Object.assign({}, axisCommon, {domain:[0,1], anchor:'y2', range:xRange, tickvals:xTicks,
    title:{text:'GMT Time (hours)', standoff:10, font:{family: FONT, size:20.8, color:'#000'}}}),
  yaxis2: Object.assign({}, axisCommon, {domain:[0,0.4545], anchor:'x2', range:[0,360], tickvals:yTicksBot,
    title:{text:'Angle (degrees)', standoff:10, font:{family: FONT, size:20.8, color:'#000'}}}),
  annotations:[
    {text:'ZPDmagnitudeSW', xref:'paper', yref:'paper', x:(540-150)/930, y:1-(135-108)/693, xanchor:'left', yanchor:'middle', showarrow:false, font:{family: FONT, size:20.5, color:C_SW}},
    {text:'ZPDmagnitudeMW', xref:'paper', yref:'paper', x:(540-150)/930, y:1-(159-108)/693, xanchor:'left', yanchor:'middle', showarrow:false, font:{family: FONT, size:20.5, color:C_MW}},
    {text:'ZPDmagnitudeLW', xref:'paper', yref:'paper', x:(540-150)/930, y:1-(184-108)/693, xanchor:'left', yanchor:'middle', showarrow:false, font:{family: FONT, size:20.5, color:C_LW}},
    {text:'sceneMirrorAngle', xref:'paper', yref:'paper', x:(545-150)/930, y:(801-771)/693, xanchor:'left', yanchor:'middle', showarrow:false, font:{family: FONT, size:20.5, color:C_SW}}
  ]
};

Plotly.newPlot('chart', traces, layout, {staticPlot:true, displayModeBar:false});
</script></body></html>
